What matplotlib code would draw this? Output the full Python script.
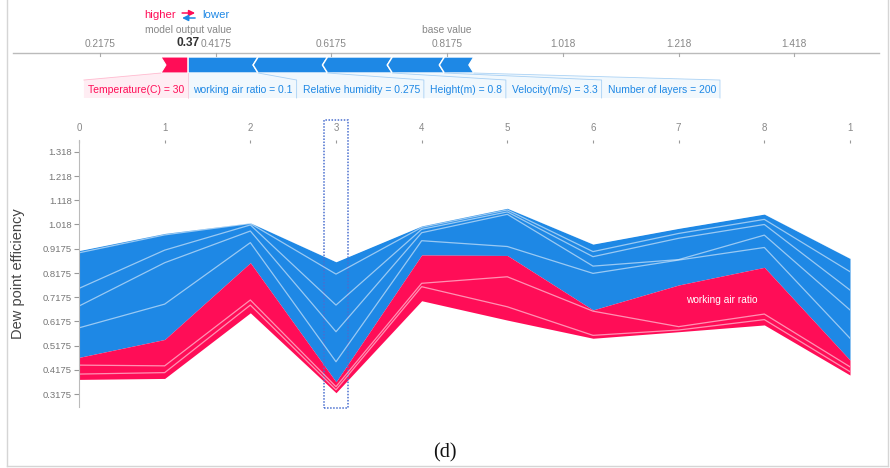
import matplotlib
matplotlib.use("Agg")
import matplotlib.pyplot as plt
from matplotlib.patches import Polygon, Rectangle
import numpy as np

plt.rcParams['font.family'] = ['Liberation Sans', 'DejaVu Sans']

RED = '#ff0d57'
BLUE = '#1e88e5'

# ---- single explanation (force plot on top)
base_value = 0.8175
out_value = 0.37
red_names = ['Temperature(C) = 30']
red_effects = [0.047]
blue_names = ['working air ratio = 0.1', 'Relative humidity = 0.275', 'Height(m) = 0.8',
              'Velocity(m/s) = 3.3', 'Number of layers = 200']
blue_effects = [0.121, 0.120, 0.112, 0.090, 0.051]
top_ticks = [0.2175, 0.4175, 0.6175, 0.8175, 1.018, 1.218, 1.418]
top_tick_labels = ['0.2175', '0.4175', '0.6175', '0.8175', '1.018', '1.218', '1.418']

# ---- stacked explanations (bottom)
samples = np.arange(10)
sample_labels = ['0', '1', '2', '3', '4', '5', '6', '7', '8', '1']
outputs = [0.469, 0.543, 0.860, 0.368, 0.892, 0.890, 0.665, 0.768, 0.841, 0.458]
# negative (blue) effects stacked upward from the output
b1 = [0.122, 0.146, 0.083, 0.083, 0.059, 0.037, 0.151, 0.103, 0.082, 0.090]
b2 = [0.090, 0.171, 0.048, 0.124, 0.033, 0.133, 0.030, 0.002, 0.051, 0.117]
b3 = [0.073, 0.052, 0.025, 0.110, 0.014, 0.010, 0.039, 0.088, 0.044, 0.082]
b4 = [0.147, 0.063, 0.006, 0.128, 0.008, 0.008, 0.021, 0.020, 0.021, 0.076]
b5 = [0.009, 0.006, 0.003, 0.051, 0.006, 0.007, 0.031, 0.021, 0.022, 0.055]
# positive (red) effects stacked downward from the output
r1 = [0.032, 0.109, 0.154, 0.020, 0.117, 0.088, 0.005, 0.172, 0.193, 0.028]
r2 = [0.037, 0.028, 0.021, 0.013, 0.014, 0.124, 0.100, 0.014, 0.023, 0.020]
r3 = [0.022, 0.024, 0.032, 0.012, 0.058, 0.055, 0.012, 0.007, 0.022, 0.014]
y_ticks = [0.3175, 0.4175, 0.5175, 0.6175, 0.7175, 0.8175, 0.9175, 1.018, 1.118, 1.218, 1.318]
y_tick_labels = ['0.3175', '0.4175', '0.5175', '0.6175', '0.7175', '0.8175', '0.9175',
                 '1.018', '1.118', '1.218', '1.318']
selected = 3

fig = plt.figure(figsize=(8.9, 4.68), dpi=100)

# ================= force plot =================
ppu = 578.5  # pixels per unit on the top axis
ax_t = fig.add_axes([0, 1 - 117 / 468, 1, 117 / 468])
x_lo = base_value - 447 / ppu
ax_t.set_xlim(x_lo, x_lo + 890 / ppu)
ax_t.set_ylim(117, 0)
ax_t.axis('off')

ax_t.axhline(53, xmin=13 / 890, xmax=879 / 890, color='#bbbbbb', lw=1)
for v, s in zip(top_ticks, top_tick_labels):
    ax_t.plot([v, v], [53, 56], color='#aaaaaa', lw=0.8)
    ax_t.text(v, 44, s, ha='center', va='center', fontsize=7.3, color='#888888')
ax_t.text(out_value, 43, '0.37', ha='center', va='center', fontsize=8.6,
          fontweight='bold', color='#333333')
ax_t.text(out_value, 30, 'model output value', ha='center', va='center',
          fontsize=7.4, color='#888888')
ax_t.text(base_value, 30, 'base value', ha='center', va='center', fontsize=7.4, color='#888888')
ax_t.annotate('higher', xy=(out_value, 15), xytext=(-9, 0), textcoords='offset points',
              ha='right', va='center', fontsize=8.2, color=RED)
ax_t.annotate('lower', xy=(out_value, 15), xytext=(10, 0), textcoords='offset points',
              ha='left', va='center', fontsize=8.2, color=BLUE)
ax_t.annotate('', xy=(out_value + 7 / ppu, 13), xytext=(out_value - 6 / ppu, 13),
              arrowprops=dict(arrowstyle='-|>,head_length=0.5,head_width=0.25', color=RED,
                              lw=1.1, shrinkA=0, shrinkB=0, mutation_scale=7))
ax_t.annotate('', xy=(out_value - 6 / ppu, 18), xytext=(out_value + 7 / ppu, 18),
              arrowprops=dict(arrowstyle='-|>,head_length=0.5,head_width=0.25', color=BLUE,
                              lw=1.1, shrinkA=0, shrinkB=0, mutation_scale=7))

bt, bm, bb = 57, 65, 73
d = 5 / ppu
renderer = fig.canvas.get_renderer()
inv = ax_t.transData.inverted()


def to_px(v):
    return ax_t.transData.transform((v, 0))[0]


def to_val(p):
    return inv.transform((p, 0))[0]


# red segment
red_start = out_value - sum(red_effects)
ax_t.add_patch(Polygon([(red_start, bt), (out_value, bt), (out_value, bb), (red_start, bb),
                        (red_start + d, bm)], closed=True, fc=RED, ec='white', lw=0.8))
t = ax_t.text(to_val(to_px(out_value) - 4), 90, red_names[0], ha='right', va='center',
              fontsize=7.5, color=RED)
w = t.get_window_extent(renderer).width
lab_left = to_val(to_px(out_value) - 4 - w - 4)
ax_t.add_patch(Polygon([(red_start, bb), (lab_left, 80), (lab_left, 98), (out_value, 98),
                        (out_value, bb)], closed=True, fc=RED, alpha=0.07, lw=0))
ax_t.plot([red_start, lab_left], [bb, 80], color=RED, alpha=0.25, lw=0.6)
ax_t.plot([out_value, out_value], [bb, 98], color=RED, alpha=0.2, lw=0.6)

# blue segments
cum = np.concatenate([[0], np.cumsum(blue_effects)])
cursor = to_px(out_value) + 5
left_px = to_px(out_value)
for i, name in enumerate(blue_names):
    a = out_value + cum[i]
    b = out_value + cum[i + 1]
    la = a - d if i > 0 else a
    ax_t.add_patch(Polygon([(a, bt), (b, bt), (b - d, bm), (b, bb), (a, bb), (la, bm)],
                           closed=True, fc=BLUE, ec='white', lw=1))
    t = ax_t.text(to_val(cursor), 90, name, ha='left', va='center', fontsize=7.5, color=BLUE)
    w = t.get_window_extent(renderer).width
    sep_px = cursor + w + 4
    L, R = to_val(left_px), to_val(sep_px)
    ax_t.add_patch(Polygon([(a, bb), (L, 80), (L, 98), (R, 98), (R, 80), (b, bb)],
                           closed=True, fc=BLUE, alpha=0.06, lw=0))
    ax_t.plot([b, R, R], [bb, 80, 98], color=BLUE, alpha=0.35, lw=0.6)
    left_px = sep_px
    cursor = sep_px + 6

# ================= stacked plot =================
ax = fig.add_axes([79 / 890, 1 - 407 / 468, (850 - 79) / 890, (407 - 140) / 468])
ax.set_xlim(0, 9)
ax.set_ylim(0.264, 1.367)

out = np.array(outputs)
blue_levels = [out]
for arr in [b1, b2, b3, b4, b5]:
    blue_levels.append(blue_levels[-1] + np.array(arr))
red_levels = [out]
for arr in [r1, r2, r3]:
    red_levels.append(red_levels[-1] - np.array(arr))

ax.fill_between(samples, out, blue_levels[-1], color=BLUE, lw=0)
ax.fill_between(samples, red_levels[-1], out, color=RED, lw=0)
for lev in blue_levels[1:-1]:
    ax.plot(samples, lev, color='white', lw=0.9, alpha=0.55)
ax.plot(samples, blue_levels[-1], color='white', lw=0.6, alpha=0.3)
for lev in red_levels[1:-1]:
    ax.plot(samples, lev, color='white', lw=0.9, alpha=0.55)

ax.text(7.5, 0.706, 'working air ratio', ha='center', va='center', fontsize=7.3, color='white')

ax.add_patch(Rectangle((selected - 0.135, 0.2597), 0.27, 1.19, fill=False, ec='#4a6fd0',
                       lw=1.1, ls=(0, (1, 1)), clip_on=False))

ax.xaxis.tick_top()
ax.set_xticks(samples)
ax.set_xticklabels(sample_labels)
ax.tick_params(axis='x', direction='in', length=2.5, width=0.8, colors='#999999',
               labelcolor='#888888', labelsize=7, pad=5)
ax.set_yticks(y_ticks)
ax.set_yticklabels(y_tick_labels)
ax.tick_params(axis='y', direction='out', length=3.5, width=0.8, colors='#999999',
               labelcolor='#777777', labelsize=6.8, pad=1.5)
for s in ['top', 'right', 'bottom']:
    ax.spines[s].set_visible(False)
ax.spines['left'].set_color('#bbbbbb')
ax.set_ylabel('Dew point efficiency', fontsize=10.5, color='#444444')
ax.yaxis.set_label_coords(-(79 - 25) / 771, 0.5)

fig.text(445 / 890, 1 - 453 / 468, '(d)', ha='center', va='center', fontsize=14.5,
         family='Liberation Serif', color='#111111')

# card border
for xs, ys in [([7, 7], [0, 466]), ([7, 888], [466, 466]), ([888, 888], [0, 466])]:
    fig.add_artist(plt.Line2D(np.array(xs) / 890, 1 - np.array(ys) / 468,
                              color='#d5d5d5', lw=1))

fig.savefig('out.png', dpi=100)
